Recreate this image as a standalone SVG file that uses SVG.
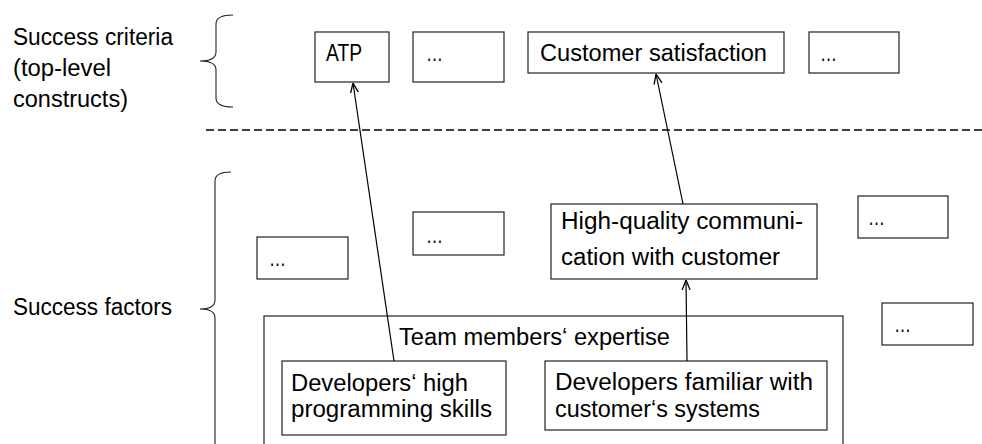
<svg xmlns="http://www.w3.org/2000/svg" width="982" height="444" viewBox="0 0 982 444">
<defs>
<style>
.box{fill:#fff;stroke:#222;stroke-width:1.2}
.t{font-family:"Liberation Sans",Arial,sans-serif;font-size:23px;fill:#000}
.conn{stroke:#000;stroke-width:1.2;fill:none;marker-end:url(#arr)}
.brace{fill:none;stroke:#222;stroke-width:1.1}
</style>
<marker id="arr" viewBox="0 0 10 10" refX="10" refY="5" markerWidth="10" markerHeight="10" markerUnits="userSpaceOnUse" orient="auto">
<path d="M0,1 L10,5 L0,9" fill="none" stroke="#000" stroke-width="1.3"/>
</marker>
</defs>
<rect width="982" height="444" fill="#fff"/>
<g id="labels">
<text class="t" x="13" y="45" textLength="160" lengthAdjust="spacingAndGlyphs">Success criteria</text>
<text class="t" x="13" y="76" textLength="98" lengthAdjust="spacingAndGlyphs">(top-level</text>
<text class="t" x="13" y="107" textLength="115" lengthAdjust="spacingAndGlyphs">constructs)</text>
<text class="t" x="13" y="315" textLength="159" lengthAdjust="spacingAndGlyphs">Success factors</text>
</g>
<g id="braces">
<path class="brace" d="M233,15 Q216,15 216,24 L216,52 Q216,61 200,61 Q216,61 216,70 L216,98 Q216,107 233,107"/>
<path class="brace" d="M231,172 Q215,172 215,181 L215,300 Q215,309 200,309 Q215,309 215,318 L215,450"/>
</g>
<line x1="206" y1="130" x2="982" y2="130" stroke="#000" stroke-width="1.3" stroke-dasharray="8,4"/>
<g id="n-atp"><rect class="box" x="315" y="32" width="74" height="50"/><text class="t" x="326" y="61" textLength="36" lengthAdjust="spacingAndGlyphs">ATP</text></g>
<g id="n-top2"><rect class="box" x="413" y="32" width="91" height="50"/><text class="t" x="426" y="61" textLength="17" lengthAdjust="spacingAndGlyphs">…</text></g>
<g id="n-cs"><rect class="box" x="528" y="32" width="256" height="41"/><text class="t" x="540" y="61" textLength="227" lengthAdjust="spacingAndGlyphs">Customer satisfaction</text></g>
<g id="n-top4"><rect class="box" x="809" y="32" width="90" height="41"/><text class="t" x="820" y="61" textLength="17" lengthAdjust="spacingAndGlyphs">…</text></g>
<g id="n-f1"><rect class="box" x="257" y="237" width="91" height="42"/><text class="t" x="269" y="266" textLength="17" lengthAdjust="spacingAndGlyphs">…</text></g>
<g id="n-f2"><rect class="box" x="413" y="212" width="91" height="43"/><text class="t" x="426" y="243" textLength="17" lengthAdjust="spacingAndGlyphs">…</text></g>
<g id="n-hq"><rect class="box" x="551" y="204" width="266" height="75"/><text class="t" x="561" y="229" textLength="242" lengthAdjust="spacingAndGlyphs">High-quality communi-</text><text class="t" x="561" y="265" textLength="219" lengthAdjust="spacingAndGlyphs">cation with customer</text></g>
<g id="n-f3"><rect class="box" x="858" y="196" width="90" height="42"/><text class="t" x="868" y="225" textLength="17" lengthAdjust="spacingAndGlyphs">…</text></g>
<g id="n-f4"><rect class="box" x="882" y="303" width="91" height="42"/><text class="t" x="894" y="332" textLength="17" lengthAdjust="spacingAndGlyphs">…</text></g>
<g id="n-team"><rect class="box" x="264" y="316" width="579" height="140"/><text class="t" x="399" y="345" textLength="271" lengthAdjust="spacingAndGlyphs">Team members‘ expertise</text></g>
<g id="n-dev1"><rect class="box" x="282" y="361" width="224" height="74"/><text class="t" x="291" y="391" textLength="177" lengthAdjust="spacingAndGlyphs">Developers‘ high</text><text class="t" x="291" y="417" textLength="201" lengthAdjust="spacingAndGlyphs">programming skills</text></g>
<g id="n-dev2"><rect class="box" x="545" y="361" width="282" height="69"/><text class="t" x="555" y="390" textLength="258" lengthAdjust="spacingAndGlyphs">Developers familiar with</text><text class="t" x="555" y="417" textLength="205" lengthAdjust="spacingAndGlyphs">customer‘s systems</text></g>
<g id="connectors">
<line class="conn" x1="394" y1="361" x2="353" y2="83"/>
<line class="conn" x1="683" y1="204" x2="656" y2="74"/>
<line class="conn" x1="687" y1="361" x2="686" y2="280"/>
</g>
</svg>
